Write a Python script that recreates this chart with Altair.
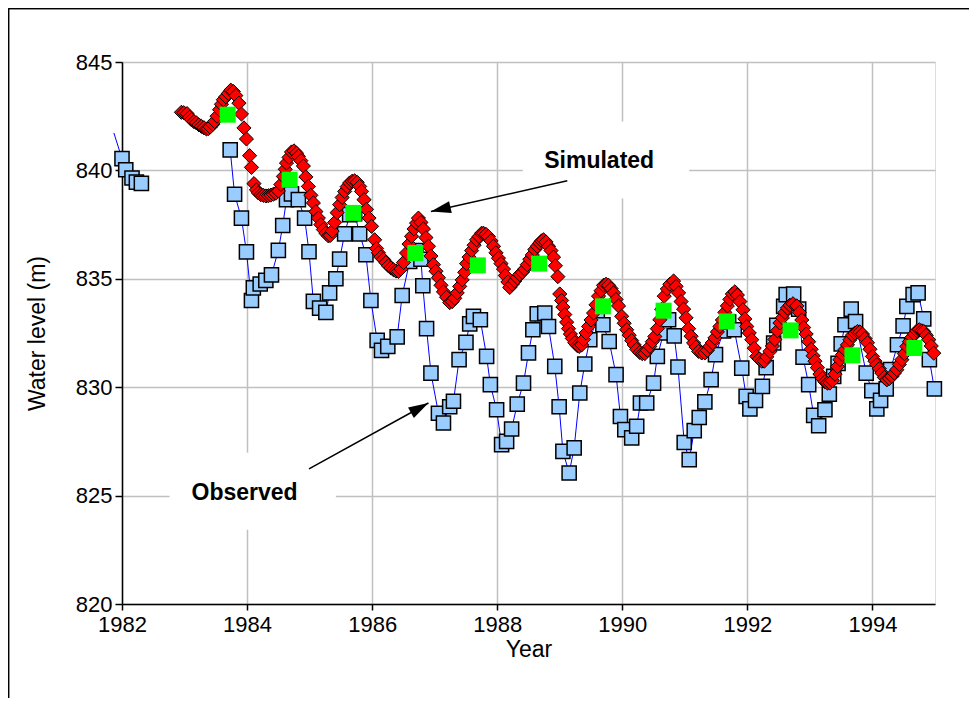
import altair as alt
import pandas as pd

# ---------------- data ----------------
obs_year = [1981.87, 1982.00, 1982.06, 1982.16, 1982.23, 1982.31,
            1983.73, 1983.80, 1983.91, 1983.99, 1984.07, 1984.10, 1984.21, 1984.30, 1984.39,
            1984.50, 1984.57, 1984.63, 1984.71, 1984.82, 1984.92, 1984.99, 1985.06, 1985.16,
            1985.26, 1985.32, 1985.42, 1985.48, 1985.56, 1985.64, 1985.72, 1985.80, 1985.90,
            1985.98, 1986.08, 1986.15, 1986.25, 1986.40, 1986.48, 1986.60, 1986.70, 1986.78,
            1986.81, 1986.87, 1986.94, 1987.06, 1987.14, 1987.24, 1987.30, 1987.39, 1987.50,
            1987.56, 1987.62, 1987.73, 1987.83, 1987.89, 1987.99, 1988.07, 1988.15, 1988.23,
            1988.32, 1988.42, 1988.50, 1988.57, 1988.64, 1988.76, 1988.82, 1988.92, 1988.99,
            1989.05, 1989.15, 1989.23, 1989.32, 1989.40, 1989.48, 1989.60, 1989.69, 1989.79,
            1989.90, 1989.97, 1990.04, 1990.15, 1990.23, 1990.29, 1990.39, 1990.50, 1990.56,
            1990.66, 1990.74, 1990.83, 1990.89, 1990.99, 1991.07, 1991.15, 1991.23, 1991.32,
            1991.42, 1991.49, 1991.62, 1991.70, 1991.79, 1991.91, 1991.98, 1992.04, 1992.13,
            1992.24, 1992.30, 1992.42, 1992.47, 1992.58, 1992.62, 1992.74, 1992.82, 1992.89,
            1992.98, 1993.06, 1993.14, 1993.24, 1993.31, 1993.38, 1993.45, 1993.50, 1993.56,
            1993.66, 1993.73, 1993.90, 1993.99, 1994.07, 1994.13, 1994.22, 1994.29, 1994.40,
            1994.49, 1994.55, 1994.65, 1994.73, 1994.82, 1994.91, 1994.99]
obs_level = [841.73, 840.54, 840.03, 839.65, 839.46, 839.40,
             840.95, 838.90, 837.80, 836.24, 834.00, 834.58, 834.76, 834.93, 835.18,
             836.31, 837.46, 838.65, 838.92, 838.65, 837.80, 836.25, 833.96, 833.65,
             833.45, 834.35, 835.00, 835.91, 837.07, 837.96, 838.00, 837.07, 836.11,
             834.00, 832.16, 831.70, 831.88, 832.32, 834.23, 835.80, 836.30, 835.90,
             834.68, 832.70, 830.65, 828.80, 828.35, 829.10, 829.35, 831.27, 832.07,
             832.92, 833.27, 833.11, 831.42, 830.12, 828.96, 827.35, 827.50, 828.07,
             829.22, 830.19, 831.58, 832.65, 833.38, 833.42, 832.80, 830.96, 829.10,
             827.04, 826.04, 827.20, 829.73, 831.07, 832.19, 833.20, 832.88, 832.11,
             830.58, 828.65, 828.04, 827.66, 828.20, 829.27, 829.27, 830.19, 831.42,
             832.50, 833.11, 832.37, 830.93, 827.45, 826.66, 828.00, 828.60, 829.32,
             830.35, 831.50, 832.60, 833.00, 832.65, 830.88, 829.58, 829.00, 829.39,
             830.04, 830.90, 832.04, 832.85, 833.73, 834.27, 834.30, 833.60, 831.39,
             830.12, 828.70, 828.22, 828.96, 829.68, 830.50, 831.10, 832.00, 832.88,
             833.60, 833.03, 830.65, 829.84, 829.00, 829.39, 829.92, 830.81, 831.96,
             832.83, 833.73, 834.27, 834.35, 833.15, 831.27, 829.92]
obs_segment = [1] * 6 + [2] * (len(obs_year) - 6)

sim_year = [1982.95, 1982.99, 1983.04, 1983.08, 1983.11, 1983.15, 1983.19, 1983.23, 1983.27,
            1983.31, 1983.35, 1983.38, 1983.41, 1983.45, 1983.48, 1983.52, 1983.56, 1983.59,
            1983.62, 1983.66, 1983.70, 1983.74, 1983.78, 1983.82, 1983.87, 1983.91, 1983.95,
            1983.99, 1984.04, 1984.07, 1984.11, 1984.15, 1984.18, 1984.22, 1984.26, 1984.30,
            1984.34, 1984.38, 1984.42, 1984.46, 1984.50, 1984.54, 1984.58, 1984.61, 1984.63,
            1984.67, 1984.71, 1984.75, 1984.79, 1984.82, 1984.86, 1984.90, 1984.94, 1984.98,
            1985.02, 1985.06, 1985.10, 1985.14, 1985.18, 1985.22, 1985.26, 1985.30, 1985.33,
            1985.36, 1985.40, 1985.44, 1985.48, 1985.52, 1985.56, 1985.60, 1985.64, 1985.68,
            1985.72, 1985.76, 1985.80, 1985.83, 1985.87, 1985.91, 1985.95, 1985.99, 1986.04,
            1986.07, 1986.10, 1986.14, 1986.18, 1986.22, 1986.26, 1986.30, 1986.34, 1986.38,
            1986.42, 1986.46, 1986.50, 1986.55, 1986.59, 1986.63, 1986.67, 1986.71, 1986.74,
            1986.78, 1986.82, 1986.86, 1986.90, 1986.94, 1986.98, 1987.02, 1987.06, 1987.10,
            1987.14, 1987.19, 1987.24, 1987.28, 1987.32, 1987.36, 1987.40, 1987.44, 1987.48,
            1987.51, 1987.55, 1987.59, 1987.63, 1987.67, 1987.71, 1987.75, 1987.78, 1987.82,
            1987.86, 1987.90, 1987.94, 1987.98, 1988.02, 1988.06, 1988.10, 1988.13, 1988.17,
            1988.20, 1988.24, 1988.28, 1988.32, 1988.36, 1988.40, 1988.44, 1988.48, 1988.52,
            1988.56, 1988.60, 1988.64, 1988.68, 1988.71, 1988.74, 1988.78, 1988.82, 1988.86,
            1988.90, 1988.93, 1988.97, 1989.00, 1989.03, 1989.05, 1989.08, 1989.11, 1989.14,
            1989.17, 1989.20, 1989.24, 1989.28, 1989.31, 1989.35, 1989.38, 1989.42, 1989.46,
            1989.50, 1989.54, 1989.58, 1989.62, 1989.66, 1989.70, 1989.74, 1989.78, 1989.82,
            1989.86, 1989.90, 1989.94, 1989.99, 1990.03, 1990.07, 1990.11, 1990.15, 1990.19,
            1990.23, 1990.28, 1990.32, 1990.36, 1990.40, 1990.44, 1990.48, 1990.52, 1990.56,
            1990.60, 1990.63, 1990.67, 1990.72, 1990.76, 1990.82, 1990.86, 1990.90, 1990.94,
            1990.98, 1991.02, 1991.06, 1991.10, 1991.14, 1991.18, 1991.22, 1991.27, 1991.32,
            1991.36, 1991.40, 1991.44, 1991.48, 1991.52, 1991.56, 1991.60, 1991.64, 1991.68,
            1991.72, 1991.76, 1991.80, 1991.84, 1991.88, 1991.93, 1991.96, 1991.99, 1992.03,
            1992.07, 1992.11, 1992.15, 1992.19, 1992.23, 1992.27, 1992.31, 1992.36, 1992.40,
            1992.44, 1992.48, 1992.52, 1992.56, 1992.60, 1992.64, 1992.68, 1992.73, 1992.79,
            1992.83, 1992.87, 1992.90, 1992.94, 1992.98, 1993.02, 1993.05, 1993.08, 1993.12,
            1993.16, 1993.20, 1993.24, 1993.28, 1993.32, 1993.36, 1993.40, 1993.44, 1993.48,
            1993.52, 1993.56, 1993.60, 1993.64, 1993.68, 1993.72, 1993.76, 1993.80, 1993.84,
            1993.88, 1993.92, 1993.96, 1994.00, 1994.04, 1994.07, 1994.11, 1994.15, 1994.19,
            1994.23, 1994.27, 1994.31, 1994.35, 1994.39, 1994.43, 1994.47, 1994.51, 1994.55,
            1994.59, 1994.63, 1994.67, 1994.71, 1994.75, 1994.79, 1994.82, 1994.86, 1994.90,
            1994.94, 1994.98]
sim_level = [842.68, 842.66, 842.62, 842.45, 842.34, 842.25, 842.19, 842.10, 842.03,
             841.97, 841.91, 841.93, 842.00, 842.12, 842.26, 842.50, 842.80, 843.05,
             843.26, 843.40, 843.55, 843.70, 843.64, 843.45, 843.10, 842.60, 841.96,
             841.45, 840.68, 840.14, 839.39, 839.10, 838.96, 838.88, 838.85, 838.82,
             838.83, 838.86, 838.90, 838.95, 839.05, 839.35, 839.72, 840.05, 840.34,
             840.60, 840.85, 840.90, 840.80, 840.65, 840.45, 840.20, 839.70, 839.26,
             838.85, 838.50, 838.10, 837.80, 837.50, 837.27, 837.10, 836.98, 837.00,
             837.20, 837.60, 838.05, 838.42, 838.75, 839.03, 839.25, 839.42, 839.50,
             839.52, 839.45, 839.26, 839.03, 838.65, 838.20, 837.80, 837.42, 836.80,
             836.40, 836.20, 836.00, 835.90, 835.75, 835.60, 835.50, 835.42, 835.36,
             835.34, 835.45, 835.75, 836.19, 836.60, 836.96, 837.30, 837.57, 837.80,
             837.60, 837.30, 836.90, 836.50, 836.05, 835.65, 835.35, 835.05, 834.70,
             834.40, 834.15, 833.90, 833.95, 834.10, 834.35, 834.65, 834.95, 835.30,
             835.70, 836.00, 836.30, 836.55, 836.80, 836.95, 837.10, 837.10, 837.05,
             836.95, 836.75, 836.50, 836.20, 835.95, 835.70, 835.45, 835.15, 834.85,
             834.60, 834.75, 834.90, 835.05, 835.20, 835.30, 835.45, 835.65, 835.90,
             836.10, 836.35, 836.50, 836.65, 836.75, 836.80, 836.70, 836.50, 836.30,
             836.00, 835.60, 835.10, 834.30, 834.00, 833.70, 833.35, 833.00, 832.70,
             832.45, 832.25, 832.05, 831.92, 831.88, 831.95, 832.20, 832.50, 832.80,
             833.10, 833.42, 833.80, 834.20, 834.45, 834.70, 834.75, 834.70, 834.55,
             834.35, 834.05, 833.75, 833.27, 832.95, 832.65, 832.40, 832.15, 831.95,
             831.75, 831.60, 831.55, 831.55, 831.70, 831.88, 832.10, 832.34, 832.70,
             833.11, 833.60, 834.20, 834.53, 834.75, 834.90, 834.65, 834.35, 833.95,
             833.60, 833.20, 832.70, 832.35, 832.04, 831.85, 831.65, 831.58, 831.58,
             831.70, 831.88, 832.05, 832.27, 832.55, 832.80, 833.10, 833.45, 833.75,
             834.05, 834.30, 834.40, 834.25, 833.95, 833.57, 833.15, 832.80, 832.50,
             832.19, 831.80, 831.42, 831.30, 831.20, 831.20, 831.40, 831.65, 831.90,
             832.20, 832.60, 832.96, 833.20, 833.45, 833.65, 833.78, 833.85, 833.75,
             833.45, 833.10, 832.75, 832.45, 832.10, 831.75, 831.45, 831.20, 830.90,
             830.60, 830.40, 830.25, 830.19, 830.19, 830.30, 830.60, 830.95, 831.27,
             831.50, 831.73, 831.95, 832.19, 832.40, 832.50, 832.57, 832.55, 832.45,
             832.25, 832.05, 831.75, 831.42, 831.20, 831.04, 830.85, 830.65, 830.45,
             830.34, 830.40, 830.50, 830.65, 830.81, 831.05, 831.27, 831.55, 831.88,
             832.10, 832.30, 832.45, 832.60, 832.65, 832.60, 832.57, 832.40, 832.19,
             831.90, 831.57]

annual_year = [1983.69, 1984.68, 1985.70, 1986.69, 1987.69, 1988.67, 1989.69, 1990.66,
               1991.67, 1992.69, 1993.68, 1994.67]
annual_level = [842.57, 839.57, 838.04, 836.19, 835.62, 835.70, 833.73, 833.53,
                833.03, 832.62, 831.47, 831.81]

# annotations
label_text = ["Simulated", "Observed"]
label_year = [1989.63, 1983.96]
label_level = [840.42, 825.13]
box_year0 = [1988.41, 1982.76]
box_year1 = [1991.07, 1985.42]
box_level0 = [838.70, 823.43]
box_level1 = [842.25, 826.98]
arrow_year0 = [1989.12, 1984.99]
arrow_level0 = [839.52, 826.23]
arrow_year1 = [1986.94, 1986.90]
arrow_level1 = [838.10, 829.27]
arrow_angle = [257, 61]

x_ticks = [1982, 1984, 1986, 1988, 1990, 1992, 1994]
y_ticks = [820, 825, 830, 835, 840, 845]

# ---------------- tables ----------------
obs = pd.DataFrame({"year": obs_year, "level": obs_level, "seg": obs_segment})
obs_pts = obs[obs["year"] >= 1982]
sim = pd.DataFrame({"year": sim_year, "level": sim_level})
ann = pd.DataFrame({"year": annual_year, "level": annual_level})
labels = pd.DataFrame({"text": label_text, "year": label_year, "level": label_level,
                       "x0": box_year0, "x1": box_year1, "y0": box_level0, "y1": box_level1})
arrows = pd.DataFrame({"year": arrow_year0, "level": arrow_level0,
                       "year2": arrow_year1, "level2": arrow_level1, "ang": arrow_angle})

FONT = "Liberation Sans"
W, H = 813, 542

xs = alt.Scale(domain=[1982, 1995], nice=False, zero=False)
ys = alt.Scale(domain=[820, 845], nice=False, zero=False)
x_axis = alt.Axis(values=x_ticks, format="d", title="Year", grid=True, labelFlush=False)
y_axis = alt.Axis(values=y_ticks, format="d", title="Water level (m)", grid=True, labelFlush=False)


def X(field="year"):
    return alt.X(f"{field}:Q", scale=xs, axis=x_axis, title="Year")


def Y(field="level"):
    return alt.Y(f"{field}:Q", scale=ys, axis=y_axis, title="Water level (m)")


boxes = alt.Chart(labels).mark_rect(fill="white").encode(
    x=X("x0"), x2="x1", y=Y("y0"), y2="y1")

obs_line = alt.Chart(obs).mark_line(color="#0000FF", strokeWidth=1).encode(
    x=X(), y=Y(), detail="seg:N", order="year:Q")

obs_marks = alt.Chart(obs_pts).mark_point(
    shape="square", filled=True, fill="#99CCFF", stroke="black", strokeWidth=1.5,
    size=200, opacity=1, fillOpacity=1, strokeOpacity=1).encode(x=X(), y=Y())

sim_marks = alt.Chart(sim).mark_point(
    shape="diamond", filled=True, fill="#FF0000", stroke="black", strokeWidth=1,
    size=200, opacity=1, fillOpacity=1, strokeOpacity=1).encode(x=X(), y=Y())

ann_marks = alt.Chart(ann).mark_point(
    shape="square", filled=True, fill="#00FF00", strokeWidth=0,
    size=256, opacity=1, fillOpacity=1).encode(x=X(), y=Y())

arrow_lines = alt.Chart(arrows).mark_rule(color="black", strokeWidth=1.5).encode(
    x=X(), y=Y(), x2="year2", y2="level2")

arrow_heads = alt.Chart(arrows).mark_point(
    shape="M0,0L-0.6,2L0.6,2Z", filled=True, fill="black", strokeWidth=0,
    size=400, opacity=1, fillOpacity=1).encode(
    x=X("year2"), y=Y("level2"), angle=alt.Angle("ang:Q", scale=None))

texts = alt.Chart(labels).mark_text(
    font=FONT, fontSize=23, fontWeight="bold", color="black",
    align="center", baseline="middle").encode(x=X(), y=Y(), text="text:N")

frame_top = alt.Chart(labels).mark_rule(color="black", strokeWidth=1.5).encode(
    x=alt.value(-113.5), x2=alt.value(900), y=alt.value(-53.5))
frame_left = alt.Chart(labels).mark_rule(color="black", strokeWidth=1.5).encode(
    x=alt.value(-113.5), y=alt.value(-53.5), y2=alt.value(700))

chart = alt.layer(
    boxes, obs_line, obs_marks, sim_marks, ann_marks,
    arrow_lines, arrow_heads, texts, frame_top, frame_left
).properties(
    width=W, height=H,
    autosize=alt.AutoSizeParams(type="none"),
    padding={"left": 114, "top": 54, "right": 34, "bottom": 94},
).configure_view(
    stroke="black", strokeWidth=1.5, fill="white"
).configure(
    background="white"
).configure_axis(
    labelFont=FONT, titleFont=FONT, labelFontSize=22, titleFontSize=23,
    labelColor="black", titleColor="black", titleFontWeight="normal",
    domainColor="black", domainWidth=1.5, tickColor="black", tickWidth=1.5,
    gridColor="#C0C0C0", gridWidth=1.5, gridOpacity=1,
).configure_axisX(
    tickSize=6, labelPadding=4, titlePadding=3
).configure_axisY(
    tickSize=7, labelPadding=3, titlePadding=26
)

chart.save("out.html", embed_options={"renderer": "svg", "actions": False})
